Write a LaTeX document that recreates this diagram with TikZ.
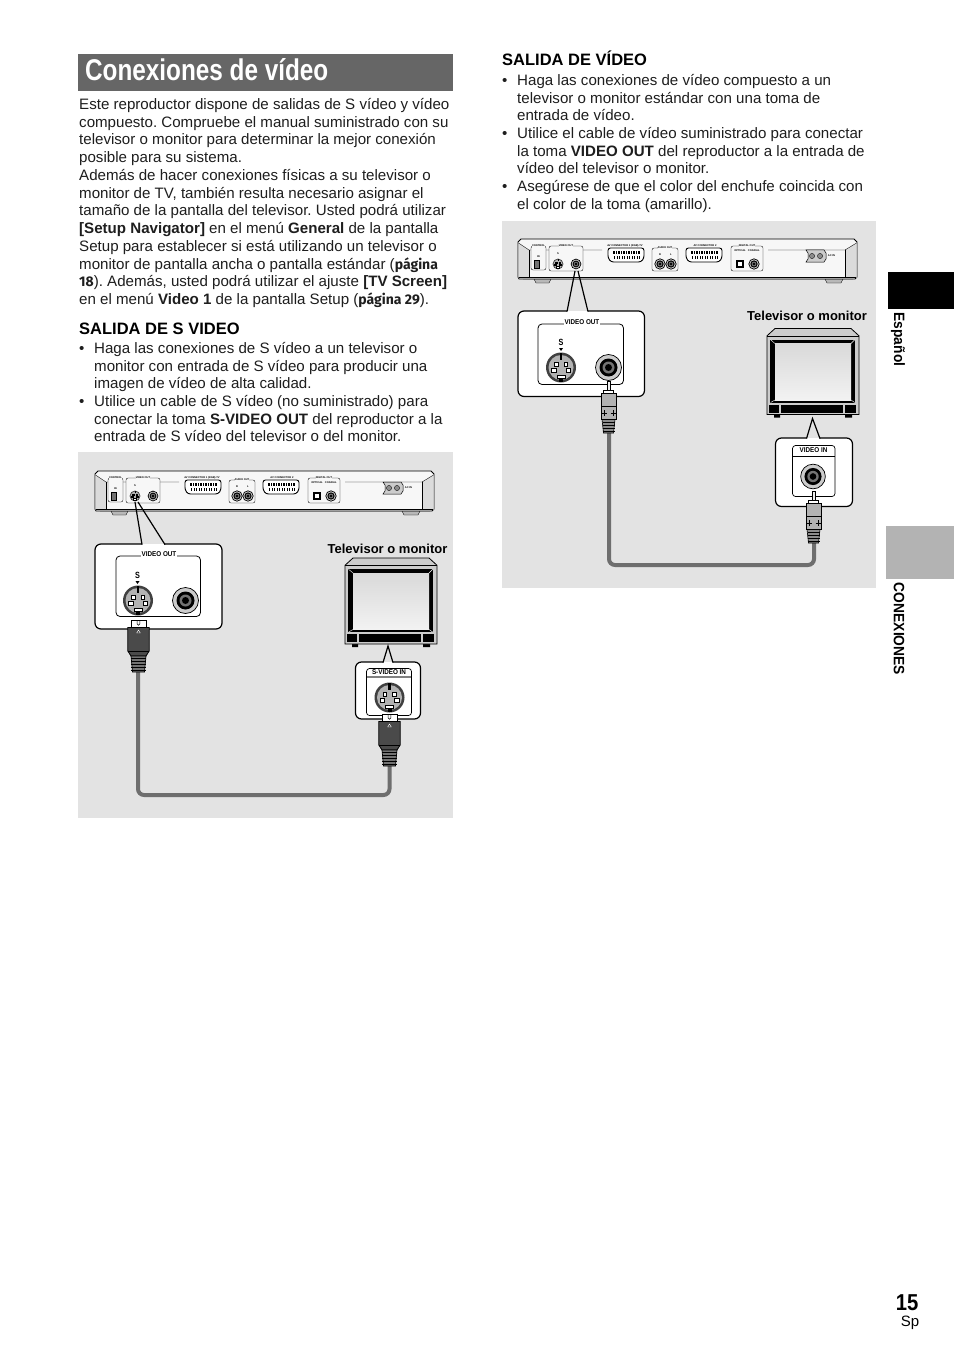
\documentclass[tikz,border=0pt]{standalone}
\usepackage{fontspec}
\setmainfont{Liberation Sans}
\newfontfamily\pgfont{Fira Sans}
\frenchspacing
\definecolor{panelgray}{HTML}{E3E3E3}
\definecolor{titlegray}{HTML}{666666}
\definecolor{tabgray}{HTML}{B3B3B3}
\definecolor{plugdark}{HTML}{4A4A4A}
\definecolor{cablegray}{HTML}{6E6E6E}
\definecolor{pagetext}{HTML}{1E1E1E}
\tikzset{
	bodytext/.style={anchor=north west,inner sep=0,align=left,text=pagetext,font=\fontsize{15.1}{17.75}\selectfont},
	dotmark/.style={anchor=north west,inner sep=0,text=pagetext,font=\fontsize{15.1}{17.75}\selectfont},
	headtext/.style={anchor=base west,inner sep=0,font=\fontsize{16.5}{18}\bfseries\selectfont},
	tvtext/.style={inner sep=0,font=\fontsize{13}{15}\bfseries\selectfont},
	tabtext/.style={inner sep=0,rotate=-90,font=\fontsize{15}{17}\bfseries\selectfont},
	jacklabel/.style={inner sep=0.6,fill=white,font=\fontsize{7}{8}\bfseries\selectfont},
	tinylabel/.style={inner sep=0,font=\fontsize{2.6}{3}\bfseries\selectfont},
	calloutline/.style={draw=black,line width=1.2,rounded corners=6},
	cableline/.style={draw=cablegray,line width=4,rounded corners=6},
}
\newcommand{\pgnum}[1]{{\pgfont\bfseries\fontsize{14}{15}\selectfont #1}}
\newcommand{\sjack}[3]{%
	\begin{scope}[shift={(#1,#2)},scale=#3]
		\fill[black!75] (0,0) circle (15);
		\fill[black!30] (0,0) circle (12.5);
		\fill[black] (-1.2,-15) rectangle (1.2,-8);
		\draw[fill=white,line width=0.7] (-6.5,-5.5) rectangle (-3,-1.5);
		\draw[fill=white,line width=0.7] (3,-5.5) rectangle (6.5,-1.5);
		\draw[fill=white,line width=0.7] (-9.5,1) rectangle (-5,4.5);
		\draw[fill=white,line width=0.7] (5,1) rectangle (9.5,4.5);
		\draw[fill=white,line width=0.7] (-4,7.5) rectangle (4,11);
		\fill[black] (-2,11) rectangle (2,14.5);
	\end{scope}}
\newcommand{\rcajack}[3]{%
	\begin{scope}[shift={(#1,#2)},scale=#3]
		\draw[fill=black!20,line width=0.7] (0,0) circle (13);
		\fill[black] (0,0) circle (9);
		\fill[black!55] (0,0) circle (6);
		\fill[black] (0,0) circle (3.5);
	\end{scope}}
\newcommand{\scartport}[2]{%
	\begin{scope}[shift={(#1,#2)}]
		\draw[fill=white,line width=0.9,rounded corners=2.5] (0,0) -- (36,0) -- (36,10) -- (33,14) -- (3,14) -- (0,10) -- cycle;
		\foreach \i in {0,...,10} {
			\fill (5+2.5*\i,3) rectangle ++(1.6,3.2);
			\fill (6+2.5*\i,8) rectangle ++(1.4,3.2);
		}
	\end{scope}}
\newcommand{\playerback}[2]{%
	\begin{scope}[shift={(#1,#2)}]
		\draw[fill=black!28,line width=0.4] (5,40) -- (16,40) -- (18,44) -- (31,44) -- (33,40) -- (307,40) -- (309,44) -- (323,44) -- (325,40) -- (335,40) -- (5,40);
		\draw[fill=black!3,line width=0.8] (3,0) -- (336,0) -- (339,3) -- (339,38) -- (337,40) -- (1,40) -- (0,38) -- (0,3) -- cycle;
		\fill[black!14] (0.5,4) -- (11,11) -- (11,38) -- (0.5,39) -- cycle;
		\fill[black!14] (338.5,4) -- (327,11) -- (327,38) -- (338.5,39) -- cycle;
		\draw[line width=0.35] (0.5,4) -- (11,11) -- (84,11);
		\draw[line width=0.35] (338.5,4) -- (327,11) -- (250,11);
		\draw[line width=0.35] (11,11) -- (11,38) (327,11) -- (327,38);
		\draw[line width=0.9] (1,38.5) -- (338,38.5);
		\draw[line width=0.35,rounded corners=2,fill=black!3] (13,7) rectangle (28,31);
		\draw[line width=0.35,rounded corners=2,fill=black!3] (31,7) rectangle (65,32);
		\draw[line width=0.35,rounded corners=2,fill=black!3] (134,9) rectangle (160,32);
		\draw[line width=0.35,rounded corners=2,fill=black!3] (213,7) rectangle (245,32);
		\node[tinylabel,fill=black!3] (lbcontrol) at (20.5,7) {CONTROL};
		\node[tinylabel] (lbin) at (20.5,18) {IN};
		\node[tinylabel,fill=black!3] (lbvideo) at (48,7) {VIDEO OUT};
		\node[tinylabel] (lbsmall) at (40,15) {S};
		\node[tinylabel,fill=black!3] (lbscartA) at (107,6.5) {AV CONNECTOR 1 (RGB)-TV};
		\node[tinylabel,fill=black!3] (lbaudio) at (147,9) {AUDIO OUT};
		\node[tinylabel] (lbright) at (142,16) {R};
		\node[tinylabel] (lbleft) at (153,16) {L};
		\node[tinylabel,fill=black!3] (lbscartB) at (187,6.5) {AV CONNECTOR 2};
		\node[tinylabel,fill=black!3] (lbdigital) at (229,7) {DIGITAL OUT};
		\node[tinylabel] (lboptical) at (229,11.5) {OPTICAL\ \ \ COAXIAL};
		\node[tinylabel] (lbacin) at (313.5,17) {AC IN};
		\draw[fill=black!55,line width=0.6] (16,21.5) rectangle (21,29);
		\sjack{40}{25}{0.36}
		\rcajack{58}{25}{0.38}
		\scartport{90}{9}
		\rcajack{142}{25}{0.4}
		\rcajack{153}{25}{0.4}
		\scartport{168}{9}
		\fill (218,21) rectangle (226,29);
		\fill[white] (220,23) rectangle (224,27);
		\rcajack{236}{25}{0.4}
		\draw[fill=black!20,line width=0.5] (288,11) -- (306,11) -- (308,14) -- (308,20) -- (306,23) -- (288,23) -- (290,20) -- (290,14) -- cycle;
		\draw[fill=black!45,line width=0.3] (294,17) circle (2.6) (302,17) circle (2.6);
	\end{scope}}
\newcommand{\tvset}[2]{%
	\begin{scope}[shift={(#1,#2)}]
		\fill (7,86) rectangle (13,89) (78,86) rectangle (85,89);
		\draw[fill=black!20,line width=0.8] (0,7.3) -- (8,0) -- (84,0) -- (92,7.3) -- (92,86) -- (0,86) -- cycle;
		\draw[line width=0.5] (0,7.3) -- (92,7.3);
		\fill (3.3,11) rectangle (88,74.3);
		\shade[top color=black!15,middle color=white,bottom color=black!5] (8,15) rectangle (84,71.5);
		\draw[white,line width=0.4] (3.6,11.3) -- (8,15) (87.7,11.3) -- (84,15) (3.6,74) -- (8,71.5) (87.7,74) -- (84,71.5);
		\fill (2.3,76.3) rectangle (11.7,84.3);
		\fill (14,76.3) rectangle (76,84.3);
		\fill (77.5,76.3) rectangle (88.5,84.3);
	\end{scope}}
\newcommand{\splug}[2]{%
	\begin{scope}[shift={(#1,#2)}]
		\draw[fill=white,line width=0.8] (-7.5,0) rectangle (7.5,8);
		\draw[line width=0.5] (-1.3,0.5) -- (-1.3,4) arc (180:0:1.3) -- (1.3,0.5);
		\draw[fill=plugdark,line width=0.8] (-10.7,7.5) -- (10.7,7.5) -- (10.7,31) -- (7.5,36) -- (-7.5,36) -- (-10.7,31) -- cycle;
		\draw[white,line width=0.4] (-1.8,13) -- (1.8,13) -- (0,10) -- cycle;
		\draw[black,line width=0.6] (-10.7,31) -- (10.7,31);
		\draw[fill=black!55,line width=0.7] (-7.5,36) -- (7.5,36) -- (6,52) -- (-6,52) -- cycle;
		\foreach \y in {38.5,41.5,44.5,47.5,50} \draw[line width=0.8] (-7.3,\y) -- (7.3,\y);
	\end{scope}}
\newcommand{\rcaplug}[2]{%
	\begin{scope}[shift={(#1,#2)}]
		\draw[fill=black!6,line width=0.6] (-1.6,0) rectangle (1.6,10);
		\draw[fill=white,line width=0.7] (-5,9) rectangle (5,12);
		\draw[fill=black!30,line width=0.8] (-7.5,12) rectangle (7.5,38.5);
		\draw[line width=0.5] (-7.5,25) -- (7.5,25);
		\draw[line width=0.8] (-7,32) -- (-2,32) (-4.5,29) -- (-4.5,35) (2,32) -- (7,32) (4.5,29) -- (4.5,35);
		\draw[fill=black!45,line width=0.6] (-6.5,38.5) -- (6.5,38.5) -- (5,52) -- (-5,52) -- cycle;
		\foreach \y in {41,44,47,50} \draw[line width=0.7] (-6,\y) -- (6,\y);
	\end{scope}}
\begin{document}
\begin{tikzpicture}[x=1pt,y=-1pt]
	\useasboundingbox (0,0) rectangle (954,1348);
	\fill[white] (0,0) rectangle (954,1348);
	% title and left column
	\fill[titlegray] (78,54) rectangle (453,91);
	\node[anchor=base west,inner sep=0,text=white,font=\fontsize{30}{32}\bfseries\selectfont] (titlename) at (85,81) {\scalebox{0.81}[1]{Conexiones de vídeo}};
	\node[bodytext] (introtext) at (79,98) {Este reproductor dispone de salidas de S vídeo y vídeo\\
		compuesto. Compruebe el manual suministrado con su\\
		televisor o monitor para determinar la mejor conexión\\
		posible para su sistema.\\
		Además de hacer conexiones físicas a su televisor o\\
		monitor de TV, también resulta necesario asignar el\\
		tamaño de la pantalla del televisor. Usted podrá utilizar\\
		\textbf{[Setup Navigator]} en el menú \textbf{General} de la pantalla\\
		Setup para establecer si está utilizando un televisor o\\
		monitor de pantalla ancha o pantalla estándar (\pgnum{página}\\
		\pgnum{18}). Además, usted podrá utilizar el ajuste \textbf{[TV Screen]}\\
		en el menú \textbf{Video 1} de la pantalla Setup (\pgnum{página 29}).};
	\node[headtext] (headleft) at (79,334) {SALIDA DE S VIDEO};
	\node[dotmark] (dotA) at (79,342) {\vphantom{Ed}•};
	\node[bodytext] (itemA) at (94,342) {Haga las conexiones de S vídeo a un televisor o\\
		monitor con entrada de S vídeo para producir una\\
		imagen de vídeo de alta calidad.};
	\node[dotmark] (dotB) at (79,395) {\vphantom{Ed}•};
	\node[bodytext] (itemB) at (94,395) {Utilice un cable de S vídeo (no suministrado) para\\
		conectar la toma \textbf{S-VIDEO OUT} del reproductor a la\\
		entrada de S vídeo del televisor o del monitor.};
	% right column
	\node[headtext] (headright) at (502,66) {SALIDA DE VÍDEO};
	\node[dotmark] (dotC) at (502,74) {\vphantom{Ed}•};
	\node[bodytext] (itemC) at (517,74) {Haga las conexiones de vídeo compuesto a un\\
		televisor o monitor estándar con una toma de\\
		entrada de vídeo.};
	\node[dotmark] (dotD) at (502,127) {\vphantom{Ed}•};
	\node[bodytext] (itemD) at (517,127) {Utilice el cable de vídeo suministrado para conectar\\
		la toma \textbf{VIDEO OUT} del reproductor a la entrada de\\
		vídeo del televisor o monitor.};
	\node[dotmark] (dotE) at (502,180) {\vphantom{Ed}•};
	\node[bodytext] (itemE) at (517,180) {Asegúrese de que el color del enchufe coincida con\\
		el color de la toma (amarillo).};
	% side tabs
	\fill (888,272) rectangle (954,309);
	\fill[tabgray] (886,526) rectangle (954,579.3);
	\node[tabtext] (tabspanish) at (898,339.5) {\scalebox{0.92}[1]{Español}};
	\node[tabtext] (tabsection) at (899,629) {\scalebox{0.92}[1]{CONEXIONES}};
	\node[anchor=base east,inner sep=0,font=\fontsize{23}{26}\bfseries\selectfont] (pagenum) at (918.5,1310.5) {\scalebox{0.88}[1]{15}};
	\node[anchor=base east,inner sep=0,font=\fontsize{15}{16}\selectfont] (pagelang) at (919.5,1326) {Sp};
	% S video figure
	\fill[panelgray] (78,452) rectangle (453,818);
	\playerback{95}{471}
	\coordinate (cableSout) at (138,670);
	\coordinate (cableSin) at (389.5,765);
	\draw[cableline] (cableSout) |- (264,795) -| (cableSin);
	\fill[white,rounded corners=6] (95,544) rectangle (222,629);
	\draw[calloutline] (165,544) -- (222,544) -- (222,629) -- (95,629) -- (95,544) -- (142,544);
	\draw[line width=1.2] (142,544.6) -- (135,502) (138,502) -- (165,544.6);
	\draw[line width=0.8,rounded corners=4] (116,556) rectangle (200.5,616.5);
	\node[jacklabel] (labelvideoA) at (159,554.5) {\scalebox{0.9}[1]{VIDEO OUT}};
	\node[font=\fontsize{9}{10}\bfseries\selectfont,inner sep=0] (labelsA) at (137.5,575.5) {\scalebox{0.8}[1]{S}};
	\fill (135.5,581) -- (139.5,581) -- (137.5,584) -- cycle;
	\sjack{138}{600.5}{1}
	\rcajack{185.5}{600.5}{1}
	\splug{138.5}{620}
	\tvset{345}{558}
	\node[tvtext] (tvnameA) at (387.5,549) {Televisor o monitor};
	\fill[white,rounded corners=6] (355.5,662) rectangle (420.5,719);
	\draw[calloutline] (393,662) -- (420.5,662) -- (420.5,719) -- (355.5,719) -- (355.5,662) -- (383,662);
	\draw[line width=1.2] (383,662.6) -- (388,646) -- (393,662.6);
	\draw[line width=0.7,rounded corners=3] (366.5,668.5) -- (411.5,668.5) -- (411.5,715.5) -- (366.5,715.5) -- cycle;
	\draw[black!50,line width=1.2] (367,677) -- (411,677);
	\node[inner sep=0,font=\fontsize{7}{8}\bfseries\selectfont] (labelsvideo) at (389,672.5) {\scalebox{0.9}[1]{S-VIDEO IN}};
	\sjack{389.5}{697.5}{1}
	\splug{389.5}{714}
	% composite video figure
	\fill[panelgray] (502,221) rectangle (876,588);
	\playerback{518}{239}
	\coordinate (cableVout) at (609,432);
	\coordinate (cableVin) at (814,543);
	\draw[cableline] (cableVout) |- (711,565) -| (cableVin);
	\fill[white,rounded corners=6] (518,311) rectangle (644.5,396.5);
	\draw[calloutline] (588,311) -- (644.5,311) -- (644.5,396.5) -- (518,396.5) -- (518,311) -- (567,311);
	\draw[line width=1.2] (567,311.6) -- (575,271) (578,271) -- (588,311.6);
	\draw[line width=0.8,rounded corners=4] (538,324) rectangle (623.5,384.5);
	\node[jacklabel] (labelvideoB) at (582,322) {\scalebox{0.9}[1]{VIDEO OUT}};
	\node[font=\fontsize{9}{10}\bfseries\selectfont,inner sep=0] (labelsB) at (561,342.5) {\scalebox{0.8}[1]{S}};
	\fill (559,348) -- (563,348) -- (561,351) -- cycle;
	\sjack{561}{367.5}{1}
	\rcajack{608.5}{367.5}{1}
	\rcaplug{608.5}{381}
	\tvset{767}{328.5}
	\node[tvtext] (tvnameB) at (807,315.5) {Televisor o monitor};
	\fill[white,rounded corners=6] (775.5,438) rectangle (852.5,506.5);
	\draw[calloutline] (820,438) -- (852.5,438) -- (852.5,506.5) -- (775.5,506.5) -- (775.5,438) -- (806.5,438);
	\draw[line width=1.2] (806.5,438.6) -- (812.5,418.5) -- (820,438.6);
	\draw[line width=0.7,rounded corners=3] (792.5,445.5) -- (835,445.5) -- (835,496.5) -- (792.5,496.5) -- cycle;
	\draw[line width=0.7] (792.5,456) -- (835,456);
	\node[inner sep=0,font=\fontsize{7}{8}\bfseries\selectfont] (labelvideoin) at (813.5,450.5) {\scalebox{0.9}[1]{VIDEO IN}};
	\rcajack{813}{476.5}{0.95}
	\rcaplug{813.5}{491}
\end{tikzpicture}
\end{document}
